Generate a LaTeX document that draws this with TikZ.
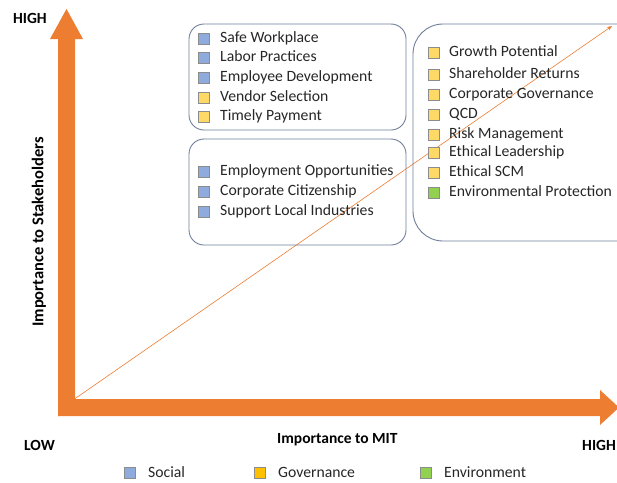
\documentclass[tikz,border=0pt]{standalone}
\usepackage{fontspec}
\setmainfont{Carlito}
\usetikzlibrary{arrows.meta}
\definecolor{axisorange}{HTML}{ED7D31}
\definecolor{socialblue}{HTML}{8FAADC}
\definecolor{govyellow}{HTML}{FFD966}
\definecolor{govlegend}{HTML}{FFC000}
\definecolor{envgreen}{HTML}{92D050}
\definecolor{boxedge}{HTML}{6F7F9A}
\definecolor{sqedge}{HTML}{8C8C8C}
\definecolor{txt}{HTML}{262626}
\tikzset{
  grp/.style={draw=boxedge, line width=0.9pt},
  sq/.style={draw=sqedge, line width=0.5pt, minimum size=11pt, inner sep=0pt},
  item/.style={anchor=west, inner sep=0pt, text=txt, font=\fontsize{15.7}{15.7}\selectfont, text height=11pt, text depth=3.2pt},
  axlab/.style={font=\bfseries\fontsize{15.5}{15.5}\selectfont, text=black, inner sep=0pt},
  leg/.style={anchor=west, inner sep=0pt, text=txt, font=\fontsize{15.7}{15.7}\selectfont, text height=11pt, text depth=3.2pt},
}
\begin{document}
\begin{tikzpicture}[x=1pt,y=-1pt]
\useasboundingbox (0,0) rectangle (617,482);
\clip (0,0) rectangle (617,482);
% axes
\fill[axisorange] (58,417) -- (58,39) -- (50,39) -- (66.5,9) -- (83,39) -- (75,39) -- (75,399)
  -- (600,399) -- (600,390) -- (619,407.5) -- (600,425) -- (600,416) -- (58,416) -- cycle;
\coordinate (origin) at (74.5,399);
\coordinate (diagend) at (612,26);
\draw[axisorange, line width=0.6pt, -{Stealth[length=5pt,width=4pt]}] (origin) -- (diagend);
% group boxes
\draw[grp, rounded corners=15pt] (189,24) rectangle (406,130);
\draw[grp, rounded corners=15pt] (189,139) rectangle (406,245);
\draw[grp, rounded corners=30pt] (413,24) rectangle (650,241);
% box 1
\foreach \y/\c/\t in {38.5/socialblue/Safe Workplace, 58/socialblue/Labor Practices, 78/socialblue/Employee Development, 97.5/govyellow/Vendor Selection, 117/govyellow/Timely Payment}{
  \node[sq, fill=\c] at (203.5,\y) {};
  \node[item] at (220,\y) {\t};
}
% box 2
\foreach \y/\c/\t in {172/socialblue/Employment Opportunities, 192/socialblue/Corporate Citizenship, 212/socialblue/Support Local Industries}{
  \node[sq, fill=\c] at (203.5,\y) {};
  \node[item] at (220,\y) {\t};
}
% box 3
\foreach \y/\c/\t in {53/govyellow/Growth Potential, 75/govyellow/Shareholder Returns, 95/govyellow/Corporate Governance, 115/govyellow/QCD, 135/govyellow/Risk Management, 153/govyellow/Ethical Leadership, 173/govyellow/Ethical SCM, 193/envgreen/Environmental Protection}{
  \node[sq, fill=\c] at (433.5,\y) {};
  \node[item] at (449,\y) {\t};
}
% axis labels
\node[axlab, anchor=west] (hightop) at (13,18.5) {HIGH};
\node[axlab, rotate=90, font=\bfseries\fontsize{16.5}{16.5}\selectfont] (ylab) at (39,232) {Importance to Stakeholders};
\node[axlab, anchor=west] (low) at (24,445) {LOW};
\node[axlab, anchor=west] (xlab) at (277,440) {Importance to MIT};
\node[axlab, anchor=east] (highright) at (616,445) {HIGH};
% legend
\node[sq, fill=socialblue] (lsoc) at (129.5,472.5) {};
\node[leg] at (148,474) {Social};
\node[sq, fill=govlegend] (lgov) at (260,472.5) {};
\node[leg] at (278,474) {Governance};
\node[sq, fill=envgreen] (lenv) at (426,472.5) {};
\node[leg] at (444,474) {Environment};
\end{tikzpicture}
\end{document}
